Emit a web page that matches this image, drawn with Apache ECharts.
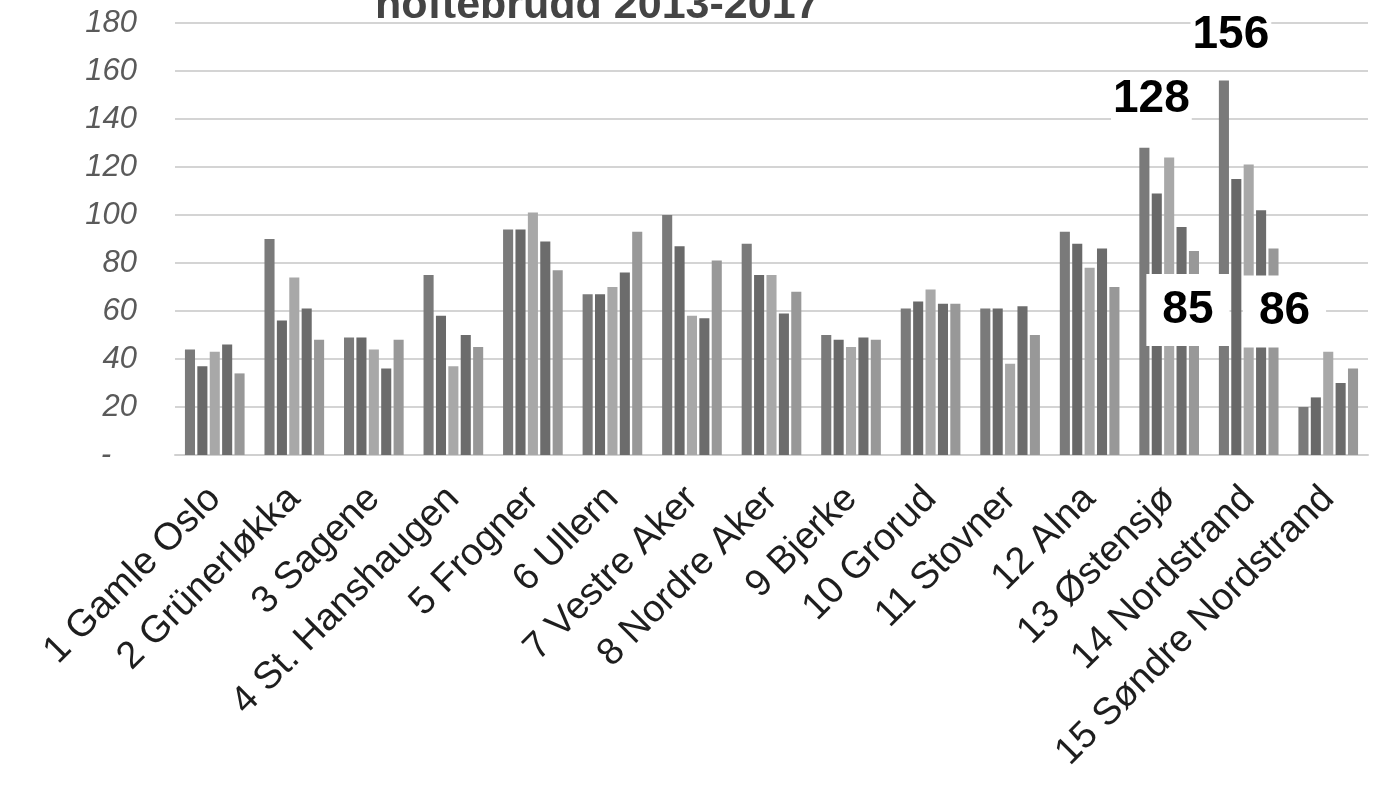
<!DOCTYPE html>
<html>
<head>
<meta charset="utf-8">
<script src="https://cdn.jsdelivr.net/npm/echarts@6/dist/echarts.min.js"></script>
<style>
html,body{margin:0;padding:0;background:#fff;}
#chart{width:1400px;height:786px;}
</style>
</head>
<body>
<div id="chart"></div>
<script>
const categories = ['1 Gamle Oslo','2 Grünerløkka','3 Sagene','4 St. Hanshaugen','5 Frogner','6 Ullern','7 Vestre Aker','8 Nordre Aker','9 Bjerke','10 Grorud','11 Stovner','12 Alna','13 Østensjø','14 Nordstrand','15 Søndre Nordstrand'];
const seriesNames = ['2013','2014','2015','2016','2017'];
const y2013 = [44, 90, 49, 75, 94, 67, 100, 88, 50, 61, 61, 93, 128, 156, 20];
const y2014 = [37, 56, 49, 58, 94, 67, 87, 75, 48, 64, 61, 88, 109, 115, 24];
const y2015 = [43, 74, 44, 37, 101, 70, 58, 75, 45, 69, 38, 78, 124, 121, 43];
const y2016 = [46, 61, 36, 50, 89, 76, 57, 59, 49, 63, 62, 86, 95, 102, 30];
const y2017 = [34, 48, 48, 45, 77, 93, 81, 68, 48, 63, 50, 70, 85, 86, 36];
const titleText = 'hoftebrudd 2013-2017';
const yTicks = [0, 20, 40, 60, 80, 100, 120, 140, 160, 180];
const highlight2013 = [12, 13];
const highlight2017 = [12, 13];

const colors = ['#7a7a7a', '#696969', '#a8a8a8', '#6c6c6c', '#989898'];
const allData = [y2013, y2014, y2015, y2016, y2017];

const bigFont = 'Liberation Sans, Arial, sans-serif';

function buildData(arr, idx) {
  return arr.map((v, i) => {
    if (idx === 0 && highlight2013.includes(i)) {
      return {
        value: v,
        label: {
          show: true, position: 'top', offset: [7, i === 12 ? -20 : -17],
          fontFamily: bigFont, fontSize: 46, fontWeight: 'bold', color: '#000',
          lineHeight: 46, backgroundColor: '#fff', padding: [0, 2]
        }
      };
    }
    if (idx === 4 && highlight2017.includes(i)) {
      return {
        value: v,
        label: {
          show: true, position: 'top',
          offset: [i === 12 ? -6 : 11, i === 12 ? 100 : 104],
          fontFamily: bigFont, fontSize: 46, fontWeight: 'bold', color: '#000',
          lineHeight: 46, backgroundColor: '#fff', padding: [13, 16]
        }
      };
    }
    return v;
  });
}

const chart = echarts.init(document.getElementById('chart'));
chart.setOption({
  backgroundColor: '#fff',
  animation: false,
  title: {
    text: titleText,
    left: 375, top: -15, padding: 0,
    textStyle: { fontFamily: bigFont, fontSize: 43, fontWeight: 'bold', color: '#444' }
  },
  grid: { left: 175, right: 32, top: 23, bottom: 331, containLabel: false },
  xAxis: {
    type: 'category',
    data: categories,
    axisTick: { show: false },
    axisLine: { lineStyle: { color: '#d0d0d0', width: 2 } },
    axisLabel: {
      rotate: 45, interval: 0, margin: 38,
      fontFamily: bigFont, fontSize: 38, color: '#1e1e1e'
    }
  },
  yAxis: {
    type: 'value',
    min: 0, max: 180, interval: 20,
    axisLine: { show: false },
    axisTick: { show: false },
    splitLine: { lineStyle: { color: '#d4d4d4', width: 2 } },
    axisLabel: {
      margin: 38,
      fontFamily: bigFont, fontSize: 31, fontStyle: 'italic', color: '#5a5a5a',
      formatter: function (v) { return yTicks.includes(v) ? (v === 0 ? '-\u2007 ' : String(v)) : ''; }
    }
  },
  series: allData.map((arr, idx) => ({
    name: seriesNames[idx],
    type: 'bar',
    data: buildData(arr, idx),
    barCategoryGap: '25%',
    barGap: '23%',
    itemStyle: { color: colors[idx] },
    label: { show: false },
    z: 2
  }))
});
</script>
</body>
</html>
